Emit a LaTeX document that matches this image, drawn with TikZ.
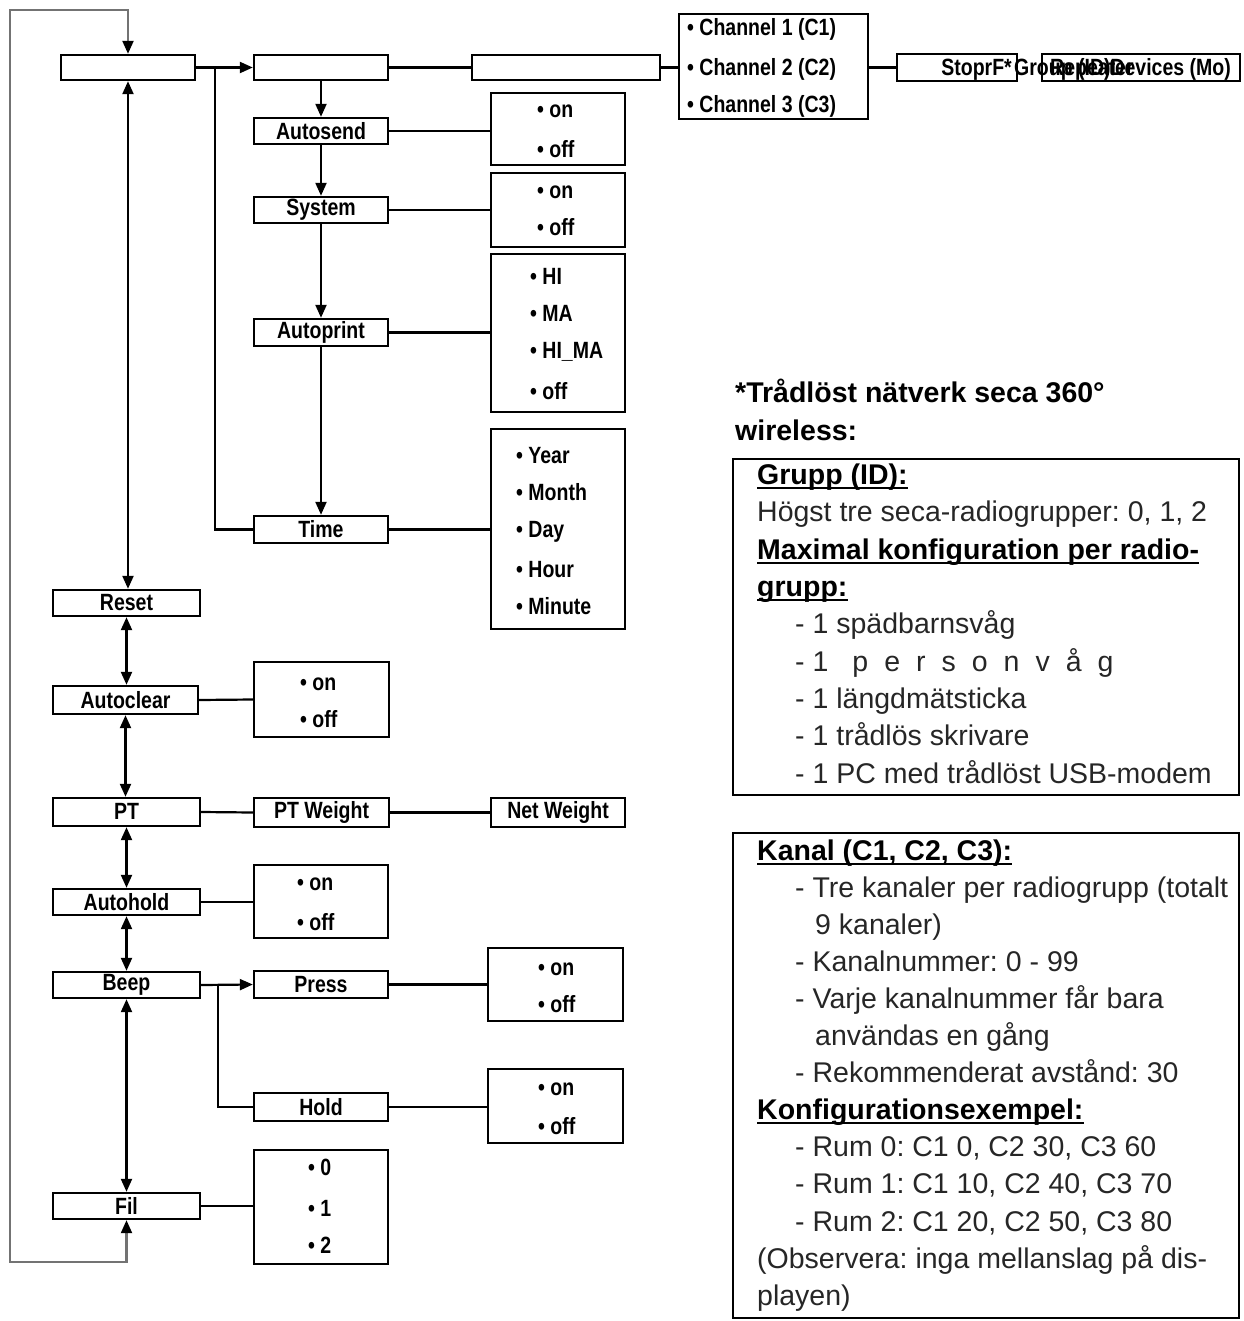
\documentclass[tikz,border=0pt]{standalone}
\usepackage{fontspec}
\setmainfont{Liberation Sans}
\newfontfamily\condf[FakeStretch=0.83]{Liberation Sans}
\usetikzlibrary{arrows.meta}
\newcommand\mkbox[6]{\node[bx, minimum width={(#4-#2)*1pt}, minimum height={(#5-#3)*1pt}] (#1) at ({(#2+#4)/2},{(#3+#5)/2}) {#6};}
\newcommand\optl[4]{\node[opt] (#1) at (#2,{#3+8}) {#4};}
\newcommand\lsp{\hspace{16pt}}
\frenchspacing
\begin{document}
\begin{tikzpicture}[x=1pt,y=-1pt,
 bx/.style={draw, line width=2.4pt, inner sep=0pt, font=\condf\fontsize{23.5}{27}\selectfont\bfseries},
 opt/.style={anchor=base west, inner sep=0pt, font=\condf\fontsize{23.5}{27}\selectfont\bfseries},
 con/.style={line width=2.2pt},
 arr/.style={con, -{Triangle[length=13pt,width=11pt]}},
 darr/.style={con, {Triangle[length=13pt,width=11pt]}-{Triangle[length=13pt,width=11pt]}},
 loopl/.style={line width=2.2pt, draw=black!55, {Triangle[length=13pt,width=11pt,fill=black,color=black]}-{Triangle[length=13pt,width=11pt,fill=black,color=black]}},
 body/.style={anchor=base west, inner sep=0pt, font=\fontsize{28.5}{37}\selectfont, text=black!85},
 head/.style={anchor=base west, inner sep=0pt, font=\fontsize{28.5}{37}\selectfont\bfseries},
 ul/.style={line width=1.6pt},
 frame/.style={draw, line width=2.2pt}
]
\useasboundingbox (0,0) rectangle (1243,1321);

% ---- top row
\mkbox{A}{61}{55}{195}{80}{}
\mkbox{B}{254}{55}{388}{80}{}
\mkbox{C}{472}{55}{660}{80}{}
\mkbox{Ch}{679}{14}{868}{119}{}
\optl{ch1}{687}{28}{• Channel 1 (C1)}
\optl{ch2}{687}{68}{• Channel 2 (C2)}
\optl{ch3}{687}{105}{• Channel 3 (C3)}
\mkbox{S1}{897}{54}{1017}{81}{}
\mkbox{S2}{1042}{54}{1240}{81}{}
\node[opt, anchor=base east] (s1t) at (1012,76) {StoprF*};
\node[opt] (s2a) at (1014,76) {Group (ID)};
\node[opt] (s2b) at (1050,76) {Repeater};
\node[opt, anchor=base east] (s2c) at (1231,76) {Devices (Mo)};

% ---- B submenu
\mkbox{Autosend}{254}{118}{388}{144}{Autosend}
\mkbox{AsOpt}{491}{93}{625}{165}{}
\optl{as1}{537}{110}{• on}
\optl{as2}{537}{150}{• off}
\mkbox{System}{254}{197}{388}{223}{System}
\mkbox{SysOpt}{491}{173}{625}{247}{}
\optl{sy1}{537}{191}{• on}
\optl{sy2}{537}{228}{• off}
\mkbox{Autoprint}{254}{319}{388}{346}{Autoprint}
\mkbox{ApOpt}{491}{254}{625}{412}{}
\optl{ap1}{530}{276}{• HI}
\optl{ap2}{530}{313}{• MA}
\optl{ap3}{530}{350}{• HI\_MA}
\optl{ap4}{530}{391}{• off}
\mkbox{Time}{254}{516}{388}{543}{Time}
\mkbox{TOpt}{491}{429}{625}{629}{}
\optl{t1}{516}{455}{• Year}
\optl{t2}{516}{492}{• Month}
\optl{t3}{516}{529}{• Day}
\optl{t4}{516}{569}{• Hour}
\optl{t5}{516}{606}{• Minute}

% ---- left column
\mkbox{Reset}{53}{590}{200}{616}{Reset}
\mkbox{Autoclear}{53}{686}{198}{714}{Autoclear}
\mkbox{AcOpt}{254}{662}{389}{737}{}
\optl{ac1}{300}{682}{• on}
\optl{ac2}{300}{719}{• off}
\mkbox{PT}{53}{798}{200}{826}{\raisebox{2pt}{PT}}
\mkbox{PTW}{254}{798}{389}{827}{PT Weight}
\mkbox{NetW}{491}{798}{625}{827}{Net Weight}
\mkbox{Autohold}{53}{889}{200}{915}{Autohold}
\mkbox{AhOpt}{254}{865}{388}{938}{}
\optl{ah1}{297}{882}{• on}
\optl{ah2}{297}{922}{• off}
\mkbox{Beep}{53}{972}{200}{998}{Beep}
\mkbox{Press}{254}{971}{388}{998}{Press}
\mkbox{PrOpt}{488}{948}{623}{1021}{}
\optl{pr1}{538}{967}{• on}
\optl{pr2}{538}{1004}{• off}
\mkbox{Hold}{254}{1093}{388}{1121}{Hold}
\mkbox{HoOpt}{488}{1069}{623}{1143}{}
\optl{ho1}{538}{1087}{• on}
\optl{ho2}{538}{1126}{• off}
\mkbox{Fil}{53}{1193}{200}{1219}{Fil}
\mkbox{FilOpt}{254}{1150}{388}{1264}{}
\optl{f1}{308}{1167}{• 0}
\optl{f2}{308}{1208}{• 1}
\optl{f3}{308}{1245}{• 2}

% ---- connectors
\coordinate (lt) at (10,10);
\coordinate (lb) at (10,1262);
\coordinate (j1) at (215,67.5);
\coordinate (j2) at (218,985);
\draw[loopl] (Fil.south) -- (Fil.south |- lb) -- (lb) -- (lt) -- (A.north |- lt) -- (A.north);
\draw[arr] (A.east) -- (B.west);
\draw[con] (j1) |- (Time.west);
\draw[con] (B.east) -- (C.west);
\draw[con] (C.east) -- (C.east -| Ch.west);
\draw[con] (Ch.east |- S1.west) -- (S1.west);
\draw[arr] (B.south) -- (Autosend.north);
\draw[arr] (Autosend.south) -- (System.north);
\draw[arr] (System.south) -- (Autoprint.north);
\draw[arr] (Autoprint.south) -- (Time.north);
\draw[con] (Autosend.east) -- (Autosend.east -| AsOpt.west);
\draw[con] (System.east) -- (System.east -| SysOpt.west);
\draw[con] (Autoprint.east) -- (Autoprint.east -| ApOpt.west);
\draw[con] (Time.east) -- (Time.east -| TOpt.west);
\draw[darr] (A.south) -- (A.south |- Reset.north);
\draw[darr] (Reset.south) -- (Reset.south |- Autoclear.north);
\draw[darr] (Autoclear.south) -- (Autoclear.south |- PT.north);
\draw[darr] (PT.south) -- (Autohold.north);
\draw[darr] (Autohold.south) -- (Beep.north);
\draw[darr] (Beep.south) -- (Fil.north);
\draw[con] (Autoclear.east) -- (AcOpt.west);
\draw[con] (PT.east) -- (PTW.west);
\draw[con] (PTW.east) -- (NetW.west);
\draw[con] (Autohold.east) -- (Autohold.east -| AhOpt.west);
\draw[arr] (Beep.east) -- (Press.west);
\draw[con] (j2) |- (Hold.west);
\draw[con] (Press.east) -- (Press.east -| PrOpt.west);
\draw[con] (Hold.east) -- (Hold.east -| HoOpt.west);
\draw[con] (Fil.east) -- (Fil.east -| FilOpt.west);

% ---- right notes
\node[head] (ti1) at (735,402) {*Trådlöst nätverk seca 360°};
\node[head] (ti2) at (735,440) {wireless:};
\node[frame, minimum width=506pt, minimum height=336pt, inner sep=0pt] (N1) at (986,627) {};
\node[head] (g1) at (757,484) {Grupp (ID):};
\draw[ul] ([yshift=-4pt]g1.base west) -- ([yshift=-4pt]g1.base east);
\node[body] (g2) at (757,521) {Högst tre seca-radiogrupper: 0, 1, 2};
\node[head] (g3) at (757,559) {Maximal konfiguration per radio-};
\draw[ul] ([yshift=-4pt]g3.base west) -- ([yshift=-4pt]g3.base east);
\node[head] (g4) at (757,596) {grupp:};
\draw[ul] ([yshift=-4pt]g4.base west) -- ([yshift=-4pt]g4.base east);
\node[body] (g5) at (795,633) {- 1 spädbarnsvåg};
\node[body] (g6) at (795,671) {- 1\hspace{24pt}p\lsp e\lsp r\lsp s\lsp o\lsp n\lsp v\lsp å\lsp g};
\node[body] (g7) at (795,708) {- 1 längdmätsticka};
\node[body] (g8) at (795,745) {- 1 trådlös skrivare};
\node[body] (g9) at (795,783) {- 1 PC med trådlöst USB-modem};

\node[frame, minimum width=506pt, minimum height=485pt, inner sep=0pt] (N2) at (986,1075.5) {};
\node[head] (k1) at (757,860) {Kanal (C1, C2, C3):};
\draw[ul] ([yshift=-4pt]k1.base west) -- ([yshift=-4pt]k1.base east);
\node[body] (k2) at (795,897) {- Tre kanaler per radiogrupp (totalt};
\node[body] (k3) at (815,934) {9 kanaler)};
\node[body] (k4) at (795,971) {- Kanalnummer: 0 - 99};
\node[body] (k5) at (795,1008) {- Varje kanalnummer får bara};
\node[body] (k6) at (815,1045) {användas en gång};
\node[body] (k7) at (795,1082) {- Rekommenderat avstånd: 30};
\node[head] (k8) at (757,1119) {Konfigurationsexempel:};
\draw[ul] ([yshift=-4pt]k8.base west) -- ([yshift=-4pt]k8.base east);
\node[body] (k9) at (795,1156) {- Rum 0: C1 0, C2 30, C3 60};
\node[body] (k10) at (795,1193) {- Rum 1: C1 10, C2 40, C3 70};
\node[body] (k11) at (795,1231) {- Rum 2: C1 20, C2 50, C3 80};
\node[body] (k12) at (757,1268) {(Observera: inga mellanslag på dis-};
\node[body] (k13) at (757,1305) {playen)};
\end{tikzpicture}
\end{document}
